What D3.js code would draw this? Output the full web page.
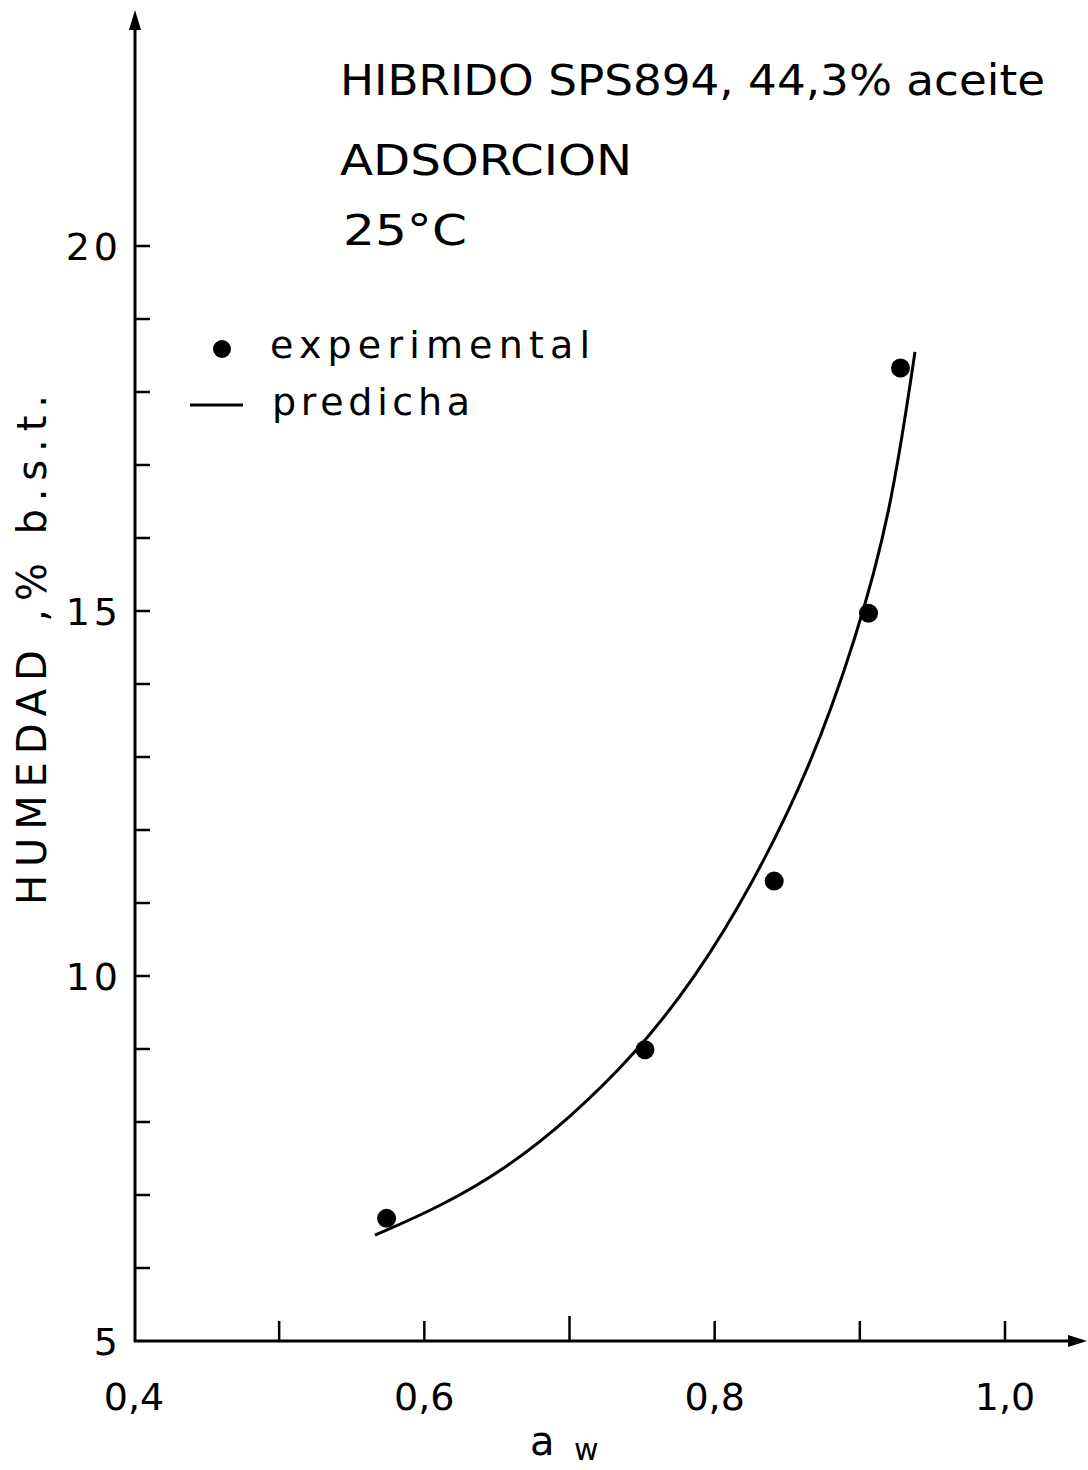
<!DOCTYPE html>
<html><head><meta charset="utf-8">
<script src="https://cdn.jsdelivr.net/npm/d3@7"></script>
<style>body{margin:0;background:#fff}svg{display:block}text{font-family:"DejaVu Sans",sans-serif;fill:#000}</style>
</head><body><svg id="c" width="1088" height="1470"></svg>
<script>
const xTicks = [0.4,0.5,0.6,0.7,0.8,0.9,1.0];
const xTickLabels = ["0,4","0,6","0,8","1,0"];
const xLabelValues = [0.4,0.6,0.8,1.0];
const yTicks = [5,6,7,8,9,10,11,12,13,14,15,16,17,18,19,20];
const yLabelValues = [5,10,15,20];
const yTickLabels = ["5","10","15","20"];
const expX = [0.574,0.752,0.841,0.906,0.928];
const expY = [6.68,8.99,11.30,14.97,18.33];
const predX = [0.566,0.611,0.657,0.700,0.744,0.786,0.826,0.866,0.897,0.921,0.938];
const predY = [6.45,6.84,7.37,8.05,8.90,9.95,11.25,12.86,14.60,16.30,18.55];
const titleLines = ["HIBRIDO  SPS894, 44,3% aceite","ADSORCION","25°C"];
const legendLabels = ["experimental","predicha"];

const svg = d3.select("#c");
const x = d3.scaleLinear().domain([0.4,1.0]).range([134,1005]);
const y = d3.scaleLinear().domain([5,20]).range([1341,246]);

// axes lines with arrows
svg.append("line").attr("x1",134).attr("y1",1341).attr("x2",1082).attr("y2",1341).attr("stroke","#000").attr("stroke-width",3);
svg.append("path").attr("d","M1087,1341 L1068,1335 L1068,1347 Z").attr("fill","#000");
svg.append("line").attr("x1",135).attr("y1",1342).attr("x2",135).attr("y2",18).attr("stroke","#000").attr("stroke-width",3);
svg.append("path").attr("d","M135,10 L129,30 L141,30 Z").attr("fill","#000");

// ticks
svg.selectAll(".xt").data(xTicks.slice(1)).enter().append("line")
  .attr("x1",d=>x(d)).attr("x2",d=>x(d)).attr("y1",1341).attr("y2",(d,i)=> i===2?1316:1321)
  .attr("stroke","#000").attr("stroke-width",2.5);
svg.selectAll(".yt").data(yTicks.slice(1)).enter().append("line")
  .attr("x1",135).attr("x2",150).attr("y1",d=>y(d)).attr("y2",d=>y(d))
  .attr("stroke","#000").attr("stroke-width",2.5);

// tick labels
svg.selectAll(".xl").data(xLabelValues).enter().append("text")
  .attr("x",d=>x(d)).attr("y",1410).attr("text-anchor","middle")
  .style("font-size","38px").text((d,i)=>xTickLabels[i]);
svg.selectAll(".yl").data(yLabelValues).enter().append("text")
  .attr("x",122).attr("y",d=>y(d)+14).attr("text-anchor","end")
  .style("font-size","38px").style("letter-spacing","4px").text((d,i)=>yTickLabels[i]);

// axis titles
svg.append("text").attr("x",530).attr("y",1455).style("font-size","40px").text("a");
svg.append("text").attr("x",574).attr("y",1460).style("font-size","30px").text("w");
svg.append("text").attr("transform","translate(46,650) rotate(-90)").attr("text-anchor","middle")
  .attr("textLength",510).attr("lengthAdjust","spacing")
  .style("font-size","40px").text("HUMEDAD ,% b.s.t.");

// title
const tl = [{y:95,x:340,w:705},{y:175,x:340,w:292},{y:245,x:343,w:124}];
svg.selectAll(".ti").data(titleLines).enter().append("text")
  .attr("x",(d,i)=>tl[i].x).attr("y",(d,i)=>tl[i].y)
  .attr("textLength",(d,i)=>tl[i].w).attr("lengthAdjust","spacingAndGlyphs")
  .style("font-size","42px").text(d=>d);

// legend
svg.append("circle").attr("cx",222).attr("cy",349).attr("r",9).attr("fill","#000");
svg.append("text").attr("x",270).attr("y",358).attr("textLength",320).attr("lengthAdjust","spacing").style("font-size","38px").text(legendLabels[0]);
svg.append("line").attr("x1",190).attr("x2",243).attr("y1",405).attr("y2",405).attr("stroke","#000").attr("stroke-width",3);
svg.append("text").attr("x",272).attr("y",415).attr("textLength",198).attr("lengthAdjust","spacing").style("font-size","38px").text(legendLabels[1]);

// predicted curve
const pts = predX.map((d,i)=>[x(d),y(predY[i])]);
svg.append("path").attr("d",d3.line().curve(d3.curveBasis)(pts))
  .attr("fill","none").attr("stroke","#000").attr("stroke-width",3);

// experimental points
svg.selectAll(".pt").data(expX).enter().append("circle")
  .attr("cx",d=>x(d)).attr("cy",(d,i)=>y(expY[i])).attr("r",9.5).attr("fill","#000");
</script></body></html>
